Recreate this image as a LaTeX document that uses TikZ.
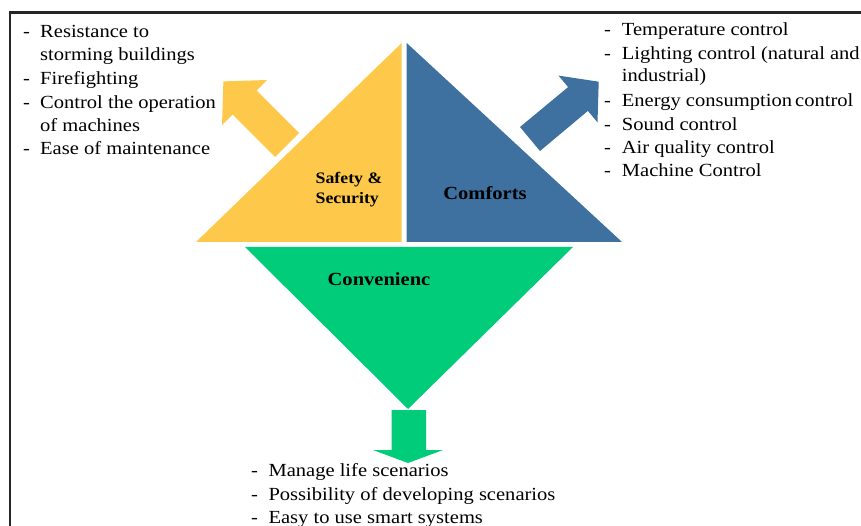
\documentclass[tikz,border=0pt]{standalone}
\usepackage{fontspec}
\setmainfont{Liberation Serif}[FakeStretch=1.11]
\usetikzlibrary{calc}
\definecolor{safetyyellow}{RGB}{254,200,74}
\definecolor{comfortblue}{RGB}{62,112,160}
\definecolor{convgreen}{RGB}{0,204,122}
\tikzset{
  item/.style={anchor=base west, inner sep=0pt, font=\fontsize{18.5}{22}\selectfont},
  bullet/.style={anchor=base west, inner sep=0pt, font=\fontsize{18.5}{22}\selectfont},
  label/.style={inner sep=0pt, font=\bfseries\fontsize{18.5}{22}\selectfont, align=center},
  smalllabel/.style={inner sep=0pt, font=\bfseries\fontsize{16}{20}\selectfont, align=left},
}
\begin{document}
\begin{tikzpicture}[x=1pt,y=-1pt]
\useasboundingbox (0,0) rectangle (861,526);
% frame
\draw[line width=2.5pt, black!85] (10,527) -- (10,12.5) -- (862,12.5);

% triangles
\fill[safetyyellow] (196,242) -- (401.7,43) -- (401.7,242) -- cycle;
\fill[comfortblue] (406.7,43) -- (406.7,242) -- (622,242) -- cycle;
\fill[convgreen] (245,247) -- (573,247) -- (408,409) -- cycle;

% block arrows
\fill[safetyyellow] (299,133) -- (256.6,90.6) -- (267.2,80) -- (223.4,81.4)
  -- (222,125.2) -- (232.6,114.6) -- (275,157) -- cycle;
\fill[comfortblue] (540,151) -- (587.9,110.9) -- (597.5,122.4) -- (598.7,81.7)
  -- (558.5,75.6) -- (568.1,87.1) -- (520,127) -- cycle;
\fill[convgreen] (391.5,410) -- (426,410) -- (426,450) -- (443,450)
  -- (408,463) -- (373,450) -- (391.5,450) -- cycle;

% labels in the triangles
\node[smalllabel] (safety) at (349,190) {Safety \&\\Security};
\node[label] (comforts) at (485,193) {Comforts};
\node[label] (conv) at (379,279) {Convenienc};

% safety list
\node[bullet] (sd1) at (23,37.3) {-};
\node[item] (s1) at (40,37.3) {Resistance to};
\node[item] (s1b) at (40,61) {storming buildings};
\node[bullet] (sd2) at (23,84.3) {-};
\node[item] (s2) at (40,84.3) {Firefighting};
\node[bullet] (sd3) at (23,108.3) {-};
\node[item] (s3) at (40,108.3) {Control the operation};
\node[item] (s3b) at (40,131.7) {of machines};
\node[bullet] (sd4) at (23,155) {-};
\node[item] (s4) at (40,155) {Ease of maintenance};

% comforts list
\node[bullet] (cd1) at (604,36) {-};
\node[item] (c1) at (621.7,36) {Temperature control};
\node[bullet] (cd2) at (604,59.3) {-};
\node[item] (c2) at (621.7,59.3) {Lighting control (natural and};
\node[item] (c2b) at (621.7,81.7) {industrial)};
\node[bullet] (cd3) at (604,106.7) {-};
\node[item] (c3) at (621.7,106.7) {Energy consumption\,control};
\node[bullet] (cd4) at (604,130.7) {-};
\node[item] (c4) at (621.7,130.7) {Sound control};
\node[bullet] (cd5) at (604,154) {-};
\node[item] (c5) at (621.7,154) {Air quality control};
\node[bullet] (cd6) at (604,176.7) {-};
\node[item] (c6) at (621.7,176.7) {Machine Control};

% convenience list
\node[bullet] (vd1) at (251,476.7) {-};
\node[item] (v1) at (268.3,476.7) {Manage life scenarios};
\node[bullet] (vd2) at (251,500) {-};
\node[item] (v2) at (268.3,500) {Possibility of developing scenarios};
\node[bullet] (vd3) at (251,523.3) {-};
\node[item] (v3) at (268.3,523.3) {Easy to use smart systems};
\end{tikzpicture}
\end{document}
